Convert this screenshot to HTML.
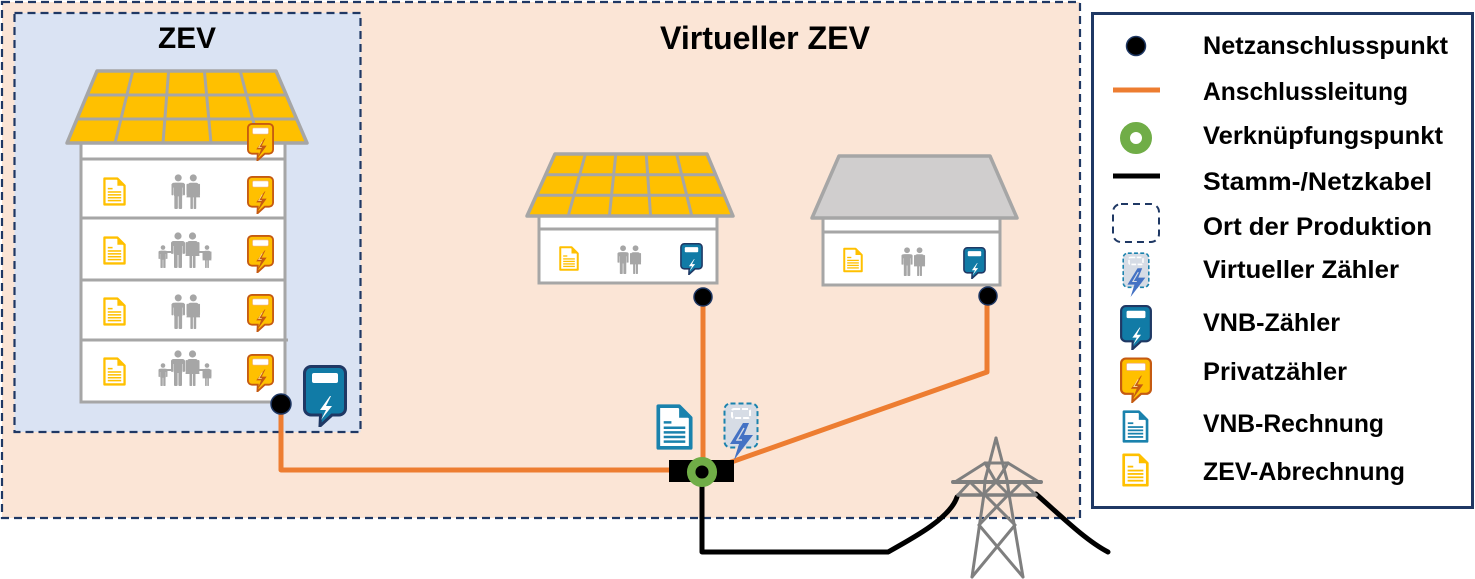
<!DOCTYPE html>
<html><head><meta charset="utf-8">
<style>
html,body{margin:0;padding:0;background:#fff;}
svg{display:block;}
text{font-family:"Liberation Sans",Arial,sans-serif;font-weight:bold;fill:#000;}
</style></head>
<body>
<svg width="1475" height="579" viewBox="0 0 1475 579" xmlns="http://www.w3.org/2000/svg">
<defs>
  <symbol id="man" viewBox="0 0 14 36">
    <circle cx="7" cy="4" r="3.6"/>
    <rect x="0" y="9" width="14" height="5" rx="2.5"/>
    <rect x="2.6" y="9" width="8.8" height="14" rx="1.5"/>
    <rect x="0" y="10" width="2.2" height="12" rx="1.1"/>
    <rect x="11.8" y="10" width="2.2" height="12" rx="1.1"/>
    <rect x="3" y="20" width="3.6" height="16" rx="1"/>
    <rect x="7.4" y="20" width="3.6" height="16" rx="1"/>
  </symbol>
  <symbol id="woman" viewBox="0 0 14 36">
    <circle cx="7" cy="4" r="3.6"/>
    <path d="M4 9 H10 A2.5 2.5 0 0 1 12.4 11 L14 24 H0 L1.6 11 A2.5 2.5 0 0 1 4 9 Z"/>
    <rect x="0" y="10" width="2.2" height="12" rx="1.1"/>
    <rect x="11.8" y="10" width="2.2" height="12" rx="1.1"/>
    <rect x="4" y="22" width="2.6" height="14" rx="0.8"/>
    <rect x="7.4" y="22" width="2.6" height="14" rx="0.8"/>
  </symbol>
  <symbol id="couple" viewBox="0 0 30 36">
    <g fill="#a6a6a6">
      <use href="#man" x="0" y="0" width="14" height="36"/>
      <use href="#woman" x="15.5" y="0" width="14" height="36"/>
    </g>
  </symbol>
  <symbol id="family" viewBox="0 0 56 36">
    <g fill="#a6a6a6">
      <use href="#man" x="1" y="13" width="10" height="23"/>
      <use href="#man" x="14" y="0" width="14" height="36"/>
      <use href="#woman" x="28.5" y="0" width="14" height="36"/>
      <use href="#woman" x="45" y="13" width="10" height="23"/>
      <rect x="8" y="19" width="8" height="2"/>
      <rect x="40" y="19" width="8" height="2"/>
    </g>
  </symbol>
  <symbol id="docY" viewBox="0 0 24 30">
    <path d="M1.5 1.5 H15 L22.5 9 V28.5 H1.5 Z" fill="#fff" stroke="#ffc000" stroke-width="2.4" stroke-linejoin="round"/>
    <path d="M15 1.5 V9 H22.5 Z" fill="#ffc000"/>
    <g stroke="#ffc000" stroke-width="1.6">
      <line x1="5" y1="12" x2="10" y2="12"/>
      <line x1="5" y1="15.5" x2="19" y2="15.5"/>
      <line x1="5" y1="18.5" x2="19" y2="18.5"/>
      <line x1="5" y1="21.5" x2="19" y2="21.5"/>
      <line x1="5" y1="24.5" x2="19" y2="24.5"/>
    </g>
  </symbol>
  <symbol id="docB" viewBox="0 0 24 30">
    <path d="M1.5 1.5 H15 L22.5 9 V28.5 H1.5 Z" fill="#fff" stroke="#1a82ad" stroke-width="2.4" stroke-linejoin="round"/>
    <path d="M15 1.5 V9 H22.5 Z" fill="#1a82ad"/>
    <g stroke="#1a82ad" stroke-width="1.6">
      <line x1="5" y1="12" x2="10" y2="12"/>
      <line x1="5" y1="15.5" x2="19" y2="15.5"/>
      <line x1="5" y1="18.5" x2="19" y2="18.5"/>
      <line x1="5" y1="21.5" x2="19" y2="21.5"/>
      <line x1="5" y1="24.5" x2="19" y2="24.5"/>
    </g>
  </symbol>
  <symbol id="mvnb" viewBox="0 0 44 62">
    <path d="M8 1.5 H36 A6.5 6.5 0 0 1 42.5 8 V43.5 A6.5 6.5 0 0 1 36 50 H29 L17 61 L17.5 50 H8 A6.5 6.5 0 0 1 1.5 43.5 V8 A6.5 6.5 0 0 1 8 1.5 Z" fill="#117ba6" stroke="#1f3864" stroke-width="3"/>
    <rect x="9" y="8" width="26" height="10" rx="2" fill="#fff"/>
    <path d="M27 31 L17 45 L23 45 L18 55 L29 41 L23 41 L28 31 Z" fill="#fff"/>
  </symbol>
  <symbol id="mpriv" viewBox="0 0 44 62">
    <path d="M8 1.5 H36 A6.5 6.5 0 0 1 42.5 8 V43.5 A6.5 6.5 0 0 1 36 50 H29 L17 61 L17.5 50 H8 A6.5 6.5 0 0 1 1.5 43.5 V8 A6.5 6.5 0 0 1 8 1.5 Z" fill="#ffc000" stroke="#c55a11" stroke-width="3"/>
    <rect x="9" y="8" width="26" height="10" rx="2" fill="#fff" stroke="#f4b183" stroke-width="1"/>
    <path d="M29 25 L15 43 L23 43 L17 58 L32 37 L24 37 L30 25 Z" fill="#c55a11"/>
    <path d="M25 30 L19 40 L24 40" fill="none" stroke="#ffe699" stroke-width="1.2"/>
  </symbol>
  <symbol id="mvirt" viewBox="0 0 36 58">
    <rect x="1.5" y="1.5" width="33" height="44" rx="6" fill="#d6dce5" stroke="#1a82ad" stroke-width="2" stroke-dasharray="5 3"/>
    <rect x="9" y="7" width="18" height="9" rx="2" fill="none" stroke="#fff" stroke-width="2" stroke-dasharray="6 2"/>
    <path d="M20 21 L7 42 L16 42 L11 58 L30 33 L21 33 L26 21 Z" fill="#4472c4"/>
    <path d="M21 26 L14 38 L19 38" fill="none" stroke="#d6dce5" stroke-width="1.4"/>
  </symbol>
</defs>

<!-- Outer Virtueller ZEV area -->
<rect x="2" y="2" width="1078" height="516" fill="#fbe5d6" stroke="#1f3864" stroke-width="2.2" stroke-dasharray="8 5"/>
<!-- ZEV area -->
<rect x="14.5" y="13" width="346" height="419" fill="#dae3f3" stroke="#1f3864" stroke-width="2.2" stroke-dasharray="8 5"/>

<text x="158" y="48" font-size="30" textLength="58" lengthAdjust="spacingAndGlyphs">ZEV</text>
<text x="660" y="49" font-size="32" textLength="210" lengthAdjust="spacingAndGlyphs">Virtueller ZEV</text>

<!-- ZEV house -->
<rect x="81" y="143" width="204" height="259" fill="#fff" stroke="#a6a6a6" stroke-width="3"/>
<g stroke="#a6a6a6" stroke-width="3">
  <line x1="81" y1="159" x2="285" y2="159"/>
  <line x1="81" y1="218" x2="285" y2="218"/>
  <line x1="81" y1="280" x2="285" y2="280"/>
  <line x1="81" y1="340" x2="288" y2="340"/>
</g>
<polygon points="97,71 276,71 307,143 67,143" fill="#ffc000" stroke="#a6a6a6" stroke-width="3.5" stroke-linejoin="round"/>
<g stroke="#a6a6a6" stroke-width="3">
  <line x1="87" y1="95" x2="286.3" y2="95"/>
  <line x1="77" y1="119" x2="296.7" y2="119"/>
  <line x1="132.8" y1="71" x2="115" y2="143"/>
  <line x1="168.6" y1="71" x2="163" y2="143"/>
  <line x1="204.4" y1="71" x2="211" y2="143"/>
  <line x1="240.2" y1="71" x2="259" y2="143"/>
</g>
<use href="#mpriv" x="247" y="123" width="27" height="38"/>

<!-- ZEV rows -->
<use href="#docY" x="103" y="177" width="23" height="29"/>
<use href="#couple" x="171" y="174" width="30" height="35"/>
<use href="#mpriv" x="247" y="176" width="27" height="38"/>

<use href="#docY" x="103" y="236" width="23" height="29"/>
<use href="#family" x="157" y="232" width="56" height="36"/>
<use href="#mpriv" x="247" y="235" width="27" height="38"/>

<use href="#docY" x="103" y="297" width="23" height="29"/>
<use href="#couple" x="171" y="294" width="30" height="35"/>
<use href="#mpriv" x="247" y="294" width="27" height="38"/>

<use href="#docY" x="103" y="357" width="23" height="29"/>
<use href="#family" x="157" y="350" width="56" height="36"/>
<use href="#mpriv" x="247" y="354" width="27" height="38"/>

<!-- Big VNB meter -->
<use href="#mvnb" x="303" y="365" width="44" height="62"/>

<!-- Middle house -->
<rect x="539" y="216" width="178" height="67" fill="#fff" stroke="#a6a6a6" stroke-width="3"/>
<line x1="539" y1="229" x2="717" y2="229" stroke="#a6a6a6" stroke-width="3"/>
<polygon points="555,154 707,154 733,216 527,216" fill="#ffc000" stroke="#a6a6a6" stroke-width="3.5" stroke-linejoin="round"/>
<g stroke="#a6a6a6" stroke-width="3">
  <line x1="545.7" y1="174.7" x2="715.7" y2="174.7"/>
  <line x1="536.3" y1="195.3" x2="724.3" y2="195.3"/>
  <line x1="585.4" y1="154" x2="568.2" y2="216"/>
  <line x1="615.8" y1="154" x2="609.4" y2="216"/>
  <line x1="646.2" y1="154" x2="650.6" y2="216"/>
  <line x1="676.6" y1="154" x2="691.8" y2="216"/>
</g>
<use href="#docY" x="559" y="246" width="20" height="25"/>
<use href="#couple" x="616" y="245" width="27" height="29"/>
<use href="#mvnb" x="680" y="243" width="23" height="32"/>

<!-- Right house -->
<rect x="823" y="218" width="177" height="67" fill="#fff" stroke="#a6a6a6" stroke-width="3"/>
<line x1="823" y1="232" x2="1000" y2="232" stroke="#a6a6a6" stroke-width="3"/>
<polygon points="839,156 990,156 1017,218 812,218" fill="#d0cece" stroke="#a6a6a6" stroke-width="3.5" stroke-linejoin="round"/>
<use href="#docY" x="843" y="247" width="20" height="26"/>
<use href="#couple" x="900" y="247" width="27" height="29"/>
<use href="#mvnb" x="963" y="247" width="23" height="32"/>

<!-- Orange connection lines -->
<g fill="none" stroke="#ed7d31" stroke-width="5" stroke-linejoin="round">
  <polyline points="281,404 281,470 672,470"/>
  <line x1="703" y1="297" x2="703" y2="472"/>
  <polyline points="987,296 987,372 703,472"/>
</g>

<!-- Black cable -->
<g fill="none" stroke="#000" stroke-width="5" stroke-linejoin="round" stroke-linecap="round">
  <polyline points="702,482 702,552 888,552"/>
  <path d="M888 552 C915 537 950 518 957 497"/>
  <path d="M1036 494 C1060 515 1085 540 1108 552"/>
</g>

<!-- Connector box -->
<rect x="669" y="460" width="65" height="22" fill="#000"/>
<circle cx="702" cy="472" r="10.8" fill="#000" stroke="#70ad47" stroke-width="8.5"/>

<!-- Connection points -->
<circle cx="281" cy="404" r="10" fill="#000" stroke="#1f3864" stroke-width="1.5"/>
<circle cx="703" cy="297" r="9" fill="#000" stroke="#1f3864" stroke-width="1.5"/>
<circle cx="988" cy="296" r="9" fill="#000" stroke="#1f3864" stroke-width="1.5"/>

<!-- Doc + virtual meter at connector -->
<use href="#docB" x="656" y="403" width="37" height="48"/>
<use href="#mvirt" x="723" y="402" width="36" height="58"/>

<!-- Tower -->
<g fill="none" stroke="#7f7f7f" stroke-width="3" stroke-linecap="round" stroke-linejoin="round">
  <polyline points="996,438 985,480 984,494 972,577"/>
  <polyline points="996,438 1007,480 1009,494 1023,577"/>
  <line x1="953" y1="482" x2="1041" y2="482" stroke-width="4"/>
  <line x1="958" y1="495" x2="1036" y2="495" stroke-width="3.5"/>
  <line x1="955" y1="482" x2="985" y2="463"/>
  <line x1="1039" y1="482" x2="1008" y2="463"/>
  <line x1="985" y1="463" x2="1008" y2="463"/>
  <polyline points="985,463 996,482 1008,463"/>
  <polyline points="958,495 970,482 983,495 996,482 1009,495 1022,482 1036,495"/>
  <line x1="984" y1="494" x2="1015" y2="525"/>
  <line x1="1009" y1="494" x2="979" y2="525"/>
  <line x1="979" y1="525" x2="1023" y2="577"/>
  <line x1="1015" y1="525" x2="972" y2="577"/>
</g>

<!-- Legend -->
<rect x="1092.5" y="13.5" width="380" height="494" fill="#fff" stroke="#1f3864" stroke-width="3"/>
<circle cx="1136" cy="46" r="9.5" fill="#000" stroke="#1f3864" stroke-width="1.5"/>
<line x1="1113" y1="90" x2="1160" y2="90" stroke="#ed7d31" stroke-width="5"/>
<circle cx="1136" cy="138" r="11" fill="none" stroke="#70ad47" stroke-width="10"/>
<line x1="1113" y1="176" x2="1160" y2="176" stroke="#000" stroke-width="5"/>
<rect x="1113" y="204" width="46" height="38" rx="8" fill="none" stroke="#1f3864" stroke-width="2" stroke-dasharray="7 5"/>
<use href="#mvirt" x="1120" y="252" width="32" height="45"/>
<use href="#mvnb" x="1120" y="305" width="32" height="45"/>
<use href="#mpriv" x="1120" y="357" width="32" height="46"/>
<use href="#docB" x="1122" y="410" width="27" height="33"/>
<use href="#docY" x="1122" y="453" width="27" height="34"/>

<g font-size="25">
  <text x="1203" y="54" textLength="245" lengthAdjust="spacingAndGlyphs">Netzanschlusspunkt</text>
  <text x="1203" y="100" textLength="205" lengthAdjust="spacingAndGlyphs">Anschlussleitung</text>
  <text x="1203" y="144" textLength="240" lengthAdjust="spacingAndGlyphs">Verknüpfungspunkt</text>
  <text x="1203" y="190" textLength="229" lengthAdjust="spacingAndGlyphs">Stamm-/Netzkabel</text>
  <text x="1203" y="235" textLength="229" lengthAdjust="spacingAndGlyphs">Ort der Produktion</text>
  <text x="1203" y="278" textLength="196" lengthAdjust="spacingAndGlyphs">Virtueller Zähler</text>
  <text x="1203" y="331" textLength="137" lengthAdjust="spacingAndGlyphs">VNB-Zähler</text>
  <text x="1203" y="380" textLength="144" lengthAdjust="spacingAndGlyphs">Privatzähler</text>
  <text x="1203" y="432" textLength="181" lengthAdjust="spacingAndGlyphs">VNB-Rechnung</text>
  <text x="1203" y="480" textLength="202" lengthAdjust="spacingAndGlyphs">ZEV-Abrechnung</text>
</g>
</svg>
</body></html>
